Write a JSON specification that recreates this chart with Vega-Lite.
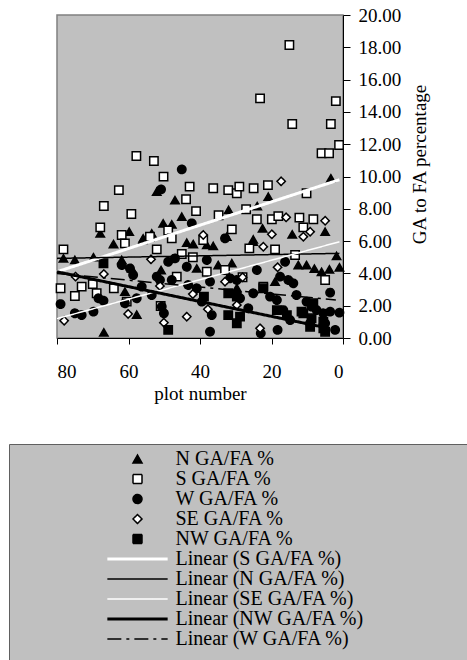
{
  "$schema": "https://vega.github.io/schema/vega-lite/v6.json",
  "width": 286,
  "height": 323,
  "autosize": {"type": "none"},
  "padding": {"left": 57, "top": 15, "right": 124, "bottom": 322},
  "background": "white",
  "config": {
    "font": "Liberation Serif",
    "view": {"fill": "#c0c0c0", "stroke": "#808080", "strokeWidth": 1.5},
    "axis": {"grid": false, "domainColor": "black", "tickColor": "black", "labelColor": "black", "titleColor": "black", "labelFontSize": 19, "titleFontSize": 19, "titleFontWeight": "normal", "labelFont": "Liberation Serif", "titleFont": "Liberation Serif"},
    "legend": {"orient": "none", "legendX": -48, "legendY": 429, "fillColor": "#c0c0c0", "strokeColor": "#606060", "padding": 5, "labelFontSize": 20, "labelFont": "Liberation Serif", "labelColor": "black", "symbolSize": 81, "symbolOffset": 113.5, "labelOffset": 28, "rowPadding": -2.5, "labelLimit": 600}
  },
  "data": {"values": [
    {"series":"N GA/FA %","plot":3.4,"pct":9.89},{"series":"N GA/FA %","plot":52.1,"pct":9.06},{"series":"N GA/FA %","plot":47.0,"pct":8.54},{"series":"N GA/FA %","plot":45.1,"pct":7.51},{"series":"N GA/FA %","plot":50.3,"pct":7.1},{"series":"N GA/FA %","plot":47.9,"pct":7.04},{"series":"N GA/FA %","plot":59.8,"pct":6.58},{"series":"N GA/FA %","plot":67.9,"pct":6.48},{"series":"N GA/FA %","plot":56.0,"pct":6.07},{"series":"N GA/FA %","plot":53.5,"pct":6.48},{"series":"N GA/FA %","plot":55.9,"pct":6.17},{"series":"N GA/FA %","plot":32.0,"pct":7.93},{"series":"N GA/FA %","plot":24.0,"pct":8.17},{"series":"N GA/FA %","plot":20.9,"pct":8.75},{"series":"N GA/FA %","plot":22.5,"pct":6.79},{"series":"N GA/FA %","plot":14.2,"pct":6.42},{"series":"N GA/FA %","plot":5.0,"pct":6.58},{"series":"N GA/FA %","plot":32.5,"pct":6.27},{"series":"N GA/FA %","plot":25.1,"pct":6.1},{"series":"N GA/FA %","plot":64.2,"pct":5.82},{"series":"N GA/FA %","plot":43.7,"pct":5.9},{"series":"N GA/FA %","plot":41.9,"pct":5.82},{"series":"N GA/FA %","plot":38.1,"pct":5.76},{"series":"N GA/FA %","plot":36.3,"pct":5.7},{"series":"N GA/FA %","plot":78.2,"pct":4.93},{"series":"N GA/FA %","plot":75.0,"pct":4.83},{"series":"N GA/FA %","plot":69.8,"pct":5.0},{"series":"N GA/FA %","plot":61.9,"pct":4.83},{"series":"N GA/FA %","plot":59.1,"pct":4.31},{"series":"N GA/FA %","plot":50.9,"pct":4.21},{"series":"N GA/FA %","plot":40.9,"pct":4.31},{"series":"N GA/FA %","plot":34.9,"pct":4.52},{"series":"N GA/FA %","plot":31.1,"pct":4.63},{"series":"N GA/FA %","plot":25.1,"pct":5.96},{"series":"N GA/FA %","plot":19.0,"pct":3.49},{"series":"N GA/FA %","plot":29.7,"pct":3.1},{"series":"N GA/FA %","plot":12.5,"pct":4.52},{"series":"N GA/FA %","plot":10.2,"pct":4.52},{"series":"N GA/FA %","plot":8.0,"pct":4.3},{"series":"N GA/FA %","plot":6.0,"pct":4.1},{"series":"N GA/FA %","plot":3.8,"pct":4.25},{"series":"N GA/FA %","plot":1.8,"pct":5.08},{"series":"N GA/FA %","plot":1.0,"pct":4.38},{"series":"N GA/FA %","plot":61.0,"pct":2.87},{"series":"N GA/FA %","plot":57.7,"pct":1.45},{"series":"N GA/FA %","plot":66.9,"pct":0.35},
    {"series":"S GA/FA %","plot":15.0,"pct":18.14},{"series":"S GA/FA %","plot":23.2,"pct":14.84},{"series":"S GA/FA %","plot":2.0,"pct":14.67},{"series":"S GA/FA %","plot":14.2,"pct":13.25},{"series":"S GA/FA %","plot":3.4,"pct":13.25},{"series":"S GA/FA %","plot":1.1,"pct":11.95},{"series":"S GA/FA %","plot":6.0,"pct":11.44},{"series":"S GA/FA %","plot":3.9,"pct":11.44},{"series":"S GA/FA %","plot":57.8,"pct":11.27},{"series":"S GA/FA %","plot":52.9,"pct":10.96},{"series":"S GA/FA %","plot":50.2,"pct":9.99},{"series":"S GA/FA %","plot":62.7,"pct":9.16},{"series":"S GA/FA %","plot":42.9,"pct":9.37},{"series":"S GA/FA %","plot":36.3,"pct":9.27},{"series":"S GA/FA %","plot":32.1,"pct":9.16},{"series":"S GA/FA %","plot":29.7,"pct":8.96},{"series":"S GA/FA %","plot":29.0,"pct":9.37},{"series":"S GA/FA %","plot":25.0,"pct":9.27},{"series":"S GA/FA %","plot":21.0,"pct":9.47},{"series":"S GA/FA %","plot":10.2,"pct":8.96},{"series":"S GA/FA %","plot":43.9,"pct":8.59},{"series":"S GA/FA %","plot":66.9,"pct":8.17},{"series":"S GA/FA %","plot":41.1,"pct":7.86},{"series":"S GA/FA %","plot":59.2,"pct":7.68},{"series":"S GA/FA %","plot":27.1,"pct":7.97},{"series":"S GA/FA %","plot":34.8,"pct":7.6},{"series":"S GA/FA %","plot":24.1,"pct":7.35},{"series":"S GA/FA %","plot":19.9,"pct":7.35},{"series":"S GA/FA %","plot":18.1,"pct":7.55},{"series":"S GA/FA %","plot":12.2,"pct":7.45},{"series":"S GA/FA %","plot":8.3,"pct":7.35},{"series":"S GA/FA %","plot":11.1,"pct":6.85},{"series":"S GA/FA %","plot":67.9,"pct":6.85},{"series":"S GA/FA %","plot":61.9,"pct":6.38},{"series":"S GA/FA %","plot":48.9,"pct":6.66},{"series":"S GA/FA %","plot":54.0,"pct":6.27},{"series":"S GA/FA %","plot":47.9,"pct":6.17},{"series":"S GA/FA %","plot":31.1,"pct":6.73},{"series":"S GA/FA %","plot":39.1,"pct":6.07},{"series":"S GA/FA %","plot":78.2,"pct":5.49},{"series":"S GA/FA %","plot":52.1,"pct":5.49},{"series":"S GA/FA %","plot":45.1,"pct":5.2},{"series":"S GA/FA %","plot":42.0,"pct":5.0},{"series":"S GA/FA %","plot":26.2,"pct":5.55},{"series":"S GA/FA %","plot":19.0,"pct":5.49},{"series":"S GA/FA %","plot":13.4,"pct":5.14},{"series":"S GA/FA %","plot":38.1,"pct":4.1},{"series":"S GA/FA %","plot":33.0,"pct":4.21},{"series":"S GA/FA %","plot":28.1,"pct":3.76},{"series":"S GA/FA %","plot":46.5,"pct":3.8},{"series":"S GA/FA %","plot":5.0,"pct":3.59},{"series":"S GA/FA %","plot":22.3,"pct":3.18},{"series":"S GA/FA %","plot":79.0,"pct":3.08},{"series":"S GA/FA %","plot":73.1,"pct":3.18},{"series":"S GA/FA %","plot":70.0,"pct":3.34},{"series":"S GA/FA %","plot":75.0,"pct":2.6},{"series":"S GA/FA %","plot":68.9,"pct":2.77},{"series":"S GA/FA %","plot":64.1,"pct":3.08},{"series":"S GA/FA %","plot":60.5,"pct":2.25},{"series":"S GA/FA %","plot":51.0,"pct":1.98},{"series":"S GA/FA %","plot":61.0,"pct":5.86},
    {"series":"W GA/FA %","plot":45.1,"pct":10.44},{"series":"W GA/FA %","plot":50.9,"pct":9.2},{"series":"W GA/FA %","plot":42.3,"pct":7.1},{"series":"W GA/FA %","plot":33.0,"pct":6.17},{"series":"W GA/FA %","plot":61.9,"pct":4.52},{"series":"W GA/FA %","plot":59.6,"pct":4.31},{"series":"W GA/FA %","plot":58.7,"pct":3.9},{"series":"W GA/FA %","plot":52.1,"pct":3.8},{"series":"W GA/FA %","plot":51.2,"pct":3.59},{"series":"W GA/FA %","plot":48.9,"pct":4.72},{"series":"W GA/FA %","plot":47.0,"pct":4.93},{"series":"W GA/FA %","plot":43.7,"pct":4.41},{"series":"W GA/FA %","plot":38.1,"pct":4.83},{"series":"W GA/FA %","plot":24.1,"pct":4.21},{"series":"W GA/FA %","plot":16.2,"pct":4.72},{"series":"W GA/FA %","plot":17.6,"pct":3.8},{"series":"W GA/FA %","plot":15.3,"pct":3.59},{"series":"W GA/FA %","plot":13.9,"pct":3.39},{"series":"W GA/FA %","plot":79.0,"pct":2.1},{"series":"W GA/FA %","plot":75.0,"pct":1.53},{"series":"W GA/FA %","plot":73.1,"pct":1.42},{"series":"W GA/FA %","plot":69.8,"pct":1.63},{"series":"W GA/FA %","plot":68.4,"pct":2.46},{"series":"W GA/FA %","plot":67.0,"pct":2.31},{"series":"W GA/FA %","plot":61.0,"pct":2.15},{"series":"W GA/FA %","plot":57.7,"pct":2.46},{"series":"W GA/FA %","plot":56.3,"pct":3.18},{"series":"W GA/FA %","plot":53.5,"pct":2.66},{"series":"W GA/FA %","plot":50.7,"pct":1.94},{"series":"W GA/FA %","plot":50.1,"pct":1.53},{"series":"W GA/FA %","plot":47.9,"pct":3.59},{"series":"W GA/FA %","plot":43.3,"pct":3.28},{"series":"W GA/FA %","plot":40.9,"pct":3.08},{"series":"W GA/FA %","plot":39.5,"pct":2.25},{"series":"W GA/FA %","plot":37.2,"pct":3.49},{"series":"W GA/FA %","plot":36.7,"pct":1.42},{"series":"W GA/FA %","plot":37.2,"pct":0.39},{"series":"W GA/FA %","plot":31.6,"pct":3.7},{"series":"W GA/FA %","plot":29.7,"pct":3.59},{"series":"W GA/FA %","plot":28.8,"pct":2.46},{"series":"W GA/FA %","plot":26.5,"pct":1.84},{"series":"W GA/FA %","plot":25.1,"pct":2.77},{"series":"W GA/FA %","plot":20.4,"pct":2.56},{"series":"W GA/FA %","plot":18.5,"pct":2.35},{"series":"W GA/FA %","plot":16.7,"pct":1.73},{"series":"W GA/FA %","plot":18.3,"pct":0.5},{"series":"W GA/FA %","plot":23.0,"pct":0.29},{"series":"W GA/FA %","plot":13.0,"pct":2.66},{"series":"W GA/FA %","plot":10.2,"pct":2.25},{"series":"W GA/FA %","plot":8.8,"pct":1.94},{"series":"W GA/FA %","plot":7.4,"pct":1.73},{"series":"W GA/FA %","plot":5.5,"pct":1.53},{"series":"W GA/FA %","plot":3.6,"pct":1.63},{"series":"W GA/FA %","plot":5.0,"pct":0.91},{"series":"W GA/FA %","plot":3.6,"pct":2.81},{"series":"W GA/FA %","plot":2.2,"pct":0.5},{"series":"W GA/FA %","plot":1.0,"pct":1.57},{"series":"W GA/FA %","plot":14.8,"pct":1.11},{"series":"W GA/FA %","plot":9.2,"pct":0.91},
    {"series":"SE GA/FA %","plot":17.3,"pct":9.7},{"series":"SE GA/FA %","plot":15.9,"pct":7.47},{"series":"SE GA/FA %","plot":5.0,"pct":7.26},{"series":"SE GA/FA %","plot":9.2,"pct":6.58},{"series":"SE GA/FA %","plot":11.1,"pct":6.27},{"series":"SE GA/FA %","plot":19.9,"pct":6.42},{"series":"SE GA/FA %","plot":39.1,"pct":6.38},{"series":"SE GA/FA %","plot":22.3,"pct":5.65},{"series":"SE GA/FA %","plot":53.7,"pct":4.87},{"series":"SE GA/FA %","plot":66.9,"pct":3.96},{"series":"SE GA/FA %","plot":74.8,"pct":3.8},{"series":"SE GA/FA %","plot":18.3,"pct":4.38},{"series":"SE GA/FA %","plot":33.0,"pct":3.49},{"series":"SE GA/FA %","plot":28.1,"pct":3.76},{"series":"SE GA/FA %","plot":51.2,"pct":3.22},{"series":"SE GA/FA %","plot":42.0,"pct":2.72},{"series":"SE GA/FA %","plot":29.7,"pct":2.04},{"series":"SE GA/FA %","plot":37.8,"pct":1.78},{"series":"SE GA/FA %","plot":78.0,"pct":1.07},{"series":"SE GA/FA %","plot":60.1,"pct":1.49},{"series":"SE GA/FA %","plot":50.1,"pct":0.95},{"series":"SE GA/FA %","plot":43.7,"pct":1.32},{"series":"SE GA/FA %","plot":23.2,"pct":0.6},
    {"series":"NW GA/FA %","plot":67.0,"pct":4.63},{"series":"NW GA/FA %","plot":48.9,"pct":0.5},{"series":"NW GA/FA %","plot":38.9,"pct":2.56},{"series":"NW GA/FA %","plot":32.1,"pct":2.77},{"series":"NW GA/FA %","plot":29.7,"pct":2.56},{"series":"NW GA/FA %","plot":32.1,"pct":1.42},{"series":"NW GA/FA %","plot":29.7,"pct":0.91},{"series":"NW GA/FA %","plot":28.8,"pct":1.32},{"series":"NW GA/FA %","plot":22.3,"pct":3.08},{"series":"NW GA/FA %","plot":18.5,"pct":1.73},{"series":"NW GA/FA %","plot":15.7,"pct":1.42},{"series":"NW GA/FA %","plot":11.1,"pct":1.53},{"series":"NW GA/FA %","plot":8.3,"pct":2.15},{"series":"NW GA/FA %","plot":9.2,"pct":0.7},{"series":"NW GA/FA %","plot":5.0,"pct":0.39},{"series":"NW GA/FA %","plot":5.5,"pct":1.01},{"series":"NW GA/FA %","plot":11.6,"pct":1.63},{"series":"NW GA/FA %","plot":8.8,"pct":1.22},{"series":"NW GA/FA %","plot":5.5,"pct":0.6},
    {"series":"Linear (S GA/FA %)","plot":80,"pct":4.1},{"series":"Linear (S GA/FA %)","plot":1,"pct":9.8},
    {"series":"Linear (N GA/FA %)","plot":80,"pct":4.93},{"series":"Linear (N GA/FA %)","plot":1,"pct":5.24},
    {"series":"Linear (SE GA/FA %)","plot":80,"pct":1.2},{"series":"Linear (SE GA/FA %)","plot":1,"pct":5.96},
    {"series":"Linear (NW GA/FA %)","plot":80,"pct":4.1},{"series":"Linear (NW GA/FA %)","plot":5,"pct":0.65},
    {"series":"Linear (W GA/FA %)","plot":80,"pct":4.0},{"series":"Linear (W GA/FA %)","plot":2,"pct":2.35}
  ]},
  "encoding": {
    "x": {"field": "plot", "type": "quantitative", "scale": {"domain": [0, 80], "reverse": true, "nice": false, "zero": false},
      "axis": {"title": "plot number", "values": [0, 20, 40, 60, 80], "tickSize": 6, "labelPadding": 18, "titlePadding": 3}},
    "y": {"field": "pct", "type": "quantitative", "scale": {"domain": [0, 20], "nice": false},
      "axis": {"orient": "right", "title": "GA to FA percentage", "values": [0, 2, 4, 6, 8, 10, 12, 14, 16, 18, 20], "format": ".2f", "tickSize": 7, "labelPadding": 8, "titlePadding": 10, "titleAngle": 270, "titleBaseline": "top", "titleY": 149}}
  },
  "layer": [
    {
      "transform": [{"filter": "indexof(datum.series, 'Linear') < 0"}],
      "mark": {"type": "point", "filled": true, "size": 70, "opacity": 1},
      "encoding": {
        "shape": {"field": "series", "type": "nominal",
          "scale": {"domain": ["N GA/FA %","S GA/FA %","W GA/FA %","SE GA/FA %","NW GA/FA %","Linear (S GA/FA %)","Linear (N GA/FA %)","Linear (SE GA/FA %)","Linear (NW GA/FA %)","Linear (W GA/FA %)"," "],
            "range": ["triangle-up","square","circle","diamond","square","M-6.7,0H6.7","M-6.7,0H6.7","M-6.7,0H6.7","M-6.7,0H6.7","M-6.7,0H6.7","M0,0H75"]},
          "legend": {"title": null, "symbolSize": 81,
            "encode": {"symbols": {"update": {
              "fill": {"scale": "fill", "field": "value"},
              "stroke": {"scale": "stroke", "field": "value"},
              "strokeWidth": {"scale": "strokeWidth", "field": "value"},
              "strokeDash": {"scale": "strokeDash", "field": "value"},
              "opacity": {"value": 1}
            }}}}},
        "fill": {"field": "series", "type": "nominal", "legend": null,
          "scale": {"domain": ["N GA/FA %","S GA/FA %","W GA/FA %","SE GA/FA %","NW GA/FA %","Linear (S GA/FA %)","Linear (N GA/FA %)","Linear (SE GA/FA %)","Linear (NW GA/FA %)","Linear (W GA/FA %)"," "],
            "range": ["black","white","black","white","black","transparent","transparent","transparent","transparent","transparent","transparent"]}},
        "stroke": {"field": "series", "type": "nominal", "legend": null,
          "scale": {"domain": ["N GA/FA %","S GA/FA %","W GA/FA %","SE GA/FA %","NW GA/FA %","Linear (S GA/FA %)","Linear (N GA/FA %)","Linear (SE GA/FA %)","Linear (NW GA/FA %)","Linear (W GA/FA %)"," "],
            "range": ["black","black","black","black","black","white","black","white","black","black","transparent"]}},
        "strokeWidth": {"field": "series", "type": "nominal", "legend": null,
          "scale": {"type": "ordinal", "domain": ["N GA/FA %","S GA/FA %","W GA/FA %","SE GA/FA %","NW GA/FA %","Linear (S GA/FA %)","Linear (N GA/FA %)","Linear (SE GA/FA %)","Linear (NW GA/FA %)","Linear (W GA/FA %)"," "],
            "range": [1.5,1.5,1.5,1.5,1.5,3,1.5,1.5,3,1.5,0]}},
        "strokeDash": {"field": "series", "type": "nominal", "legend": null,
          "scale": {"domain": ["N GA/FA %","S GA/FA %","W GA/FA %","SE GA/FA %","NW GA/FA %","Linear (S GA/FA %)","Linear (N GA/FA %)","Linear (SE GA/FA %)","Linear (NW GA/FA %)","Linear (W GA/FA %)"," "],
            "range": [[1,0],[1,0],[1,0],[1,0],[1,0],[1,0],[1,0],[1,0],[1,0],[14,5,3,5],[1,0]]}}
      }
    },
    {
      "transform": [{"filter": "indexof(datum.series, 'Linear') == 0"}],
      "mark": {"type": "line"},
      "encoding": {
        "stroke": {"field": "series", "type": "nominal", "legend": null,
          "scale": {"domain": ["N GA/FA %","S GA/FA %","W GA/FA %","SE GA/FA %","NW GA/FA %","Linear (S GA/FA %)","Linear (N GA/FA %)","Linear (SE GA/FA %)","Linear (NW GA/FA %)","Linear (W GA/FA %)"," "],
            "range": ["black","black","black","black","black","white","black","white","black","black","transparent"]}},
        "strokeWidth": {"field": "series", "type": "nominal", "legend": null,
          "scale": {"type": "ordinal", "domain": ["N GA/FA %","S GA/FA %","W GA/FA %","SE GA/FA %","NW GA/FA %","Linear (S GA/FA %)","Linear (N GA/FA %)","Linear (SE GA/FA %)","Linear (NW GA/FA %)","Linear (W GA/FA %)"," "],
            "range": [1.5,1.5,1.5,1.5,1.5,3,1.5,1.5,3,1.5,0]}},
        "strokeDash": {"field": "series", "type": "nominal", "legend": null,
          "scale": {"domain": ["N GA/FA %","S GA/FA %","W GA/FA %","SE GA/FA %","NW GA/FA %","Linear (S GA/FA %)","Linear (N GA/FA %)","Linear (SE GA/FA %)","Linear (NW GA/FA %)","Linear (W GA/FA %)"," "],
            "range": [[1,0],[1,0],[1,0],[1,0],[1,0],[1,0],[1,0],[1,0],[1,0],[14,5,3,5],[1,0]]}}
      }
    }
  ]
}
